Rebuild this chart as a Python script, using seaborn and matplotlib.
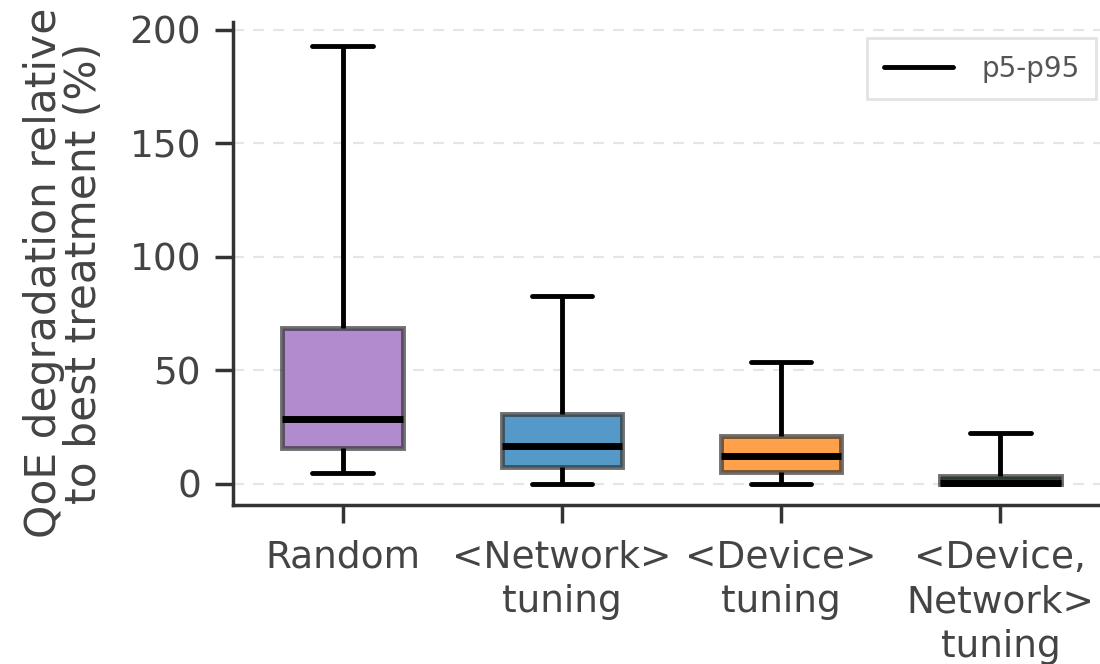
import matplotlib
matplotlib.use("Agg")
import matplotlib.pyplot as plt
from matplotlib.lines import Line2D
import seaborn as sns
import pandas as pd

# Treatments shown on the x axis
categories = ["Random", "<Network>\ntuning", "<Device>\ntuning", "<Device,\nNetwork>\ntuning"]
# Summary statistics per treatment: p5, q1, median, q3, p95 (QoE degradation, %)
p5 = [4.8, 0.0, 0.0, 0.0]
q1 = [15.9, 7.5, 5.3, 0.0]
median = [28.6, 16.7, 12.3, 0.5]
q3 = [68.7, 31.0, 21.0, 3.5]
p95 = [193.0, 83.0, 53.7, 22.5]
colors = ["#b08ccf", "#5499c7", "#ffa04a", "#2b4a2b"]
yticks = [0, 50, 100, 150, 200]

# Long-form table: five points per treatment reproduce the box (q1/median/q3)
# and, with whiskers set to the full range, the p5-p95 whiskers.
rows = []
for i, cat in enumerate(categories):
    for v in (p5[i], q1[i], median[i], q3[i], p95[i]):
        rows.append({"treatment": cat, "value": v})
df = pd.DataFrame(rows)

sns.set_style("white")
text_color = "#444444"
plt.rcParams["font.family"] = ["DejaVu Sans"]
plt.rcParams["text.color"] = text_color
plt.rcParams["axes.labelcolor"] = text_color
plt.rcParams["xtick.color"] = text_color
plt.rcParams["ytick.color"] = text_color

fig = plt.figure(figsize=(11, 6.64), dpi=100)
ax = fig.add_axes([233 / 1100, (664 - 505) / 664, (1110 - 233) / 1100, (505 - 22) / 664])

sns.boxplot(
    data=df, x="treatment", y="value", hue="treatment", order=categories,
    hue_order=categories, palette=colors, saturation=1, legend=False, ax=ax,
    whis=(0, 100), showfliers=False, width=0.55, linewidth=3.5,
    boxprops=dict(edgecolor=(0.2, 0.2, 0.2, 0.7)),
    medianprops=dict(color="black", linewidth=5),
    whiskerprops=dict(color="black", linewidth=3.5),
    capprops=dict(color="black", linewidth=3.5),
)

ax.set_ylim(-9.25, 203.5)
ax.set_xlim(-0.5, 3.5)
ax.set_yticks(yticks)
ax.yaxis.grid(True, linestyle=(0, (5, 4)), color="#e6e6e6", linewidth=1.6)
ax.set_axisbelow(True)

for side in ("top", "right"):
    ax.spines[side].set_visible(False)
for side in ("left", "bottom"):
    ax.spines[side].set_color("#333333")
    ax.spines[side].set_linewidth(2.5)

ax.tick_params(axis="both", which="major", length=13, width=2.5, color="#333333",
               labelsize=27, bottom=True, left=True)
ax.tick_params(axis="y", pad=10)
ax.tick_params(axis="x", pad=12)
for lbl in ax.get_xticklabels():
    lbl.set_linespacing(1.3)
ax.set_xlabel("")
ax.set_ylabel("QoE degradation relative\nto best treatment (%)", fontsize=30.5,
              linespacing=0.95)
ax.yaxis.set_label_coords((105 - 233) / 877, (505 - 273) / 483)

handle = Line2D([], [], color="black", linewidth=3.5)
leg = fig.legend([handle], ["p5-p95"], loc="upper right",
                 bbox_to_anchor=(1096 / 1100, 1 - 38 / 664), fontsize=20,
                 frameon=True, fancybox=False, handlelength=2.5,
                 borderpad=0.6, handletextpad=1.0, borderaxespad=0)
leg.get_frame().set_edgecolor("#dddddd")
leg.get_frame().set_linewidth(2)
for t in leg.get_texts():
    t.set_color("#555555")

fig.savefig("out.png", dpi=100)
